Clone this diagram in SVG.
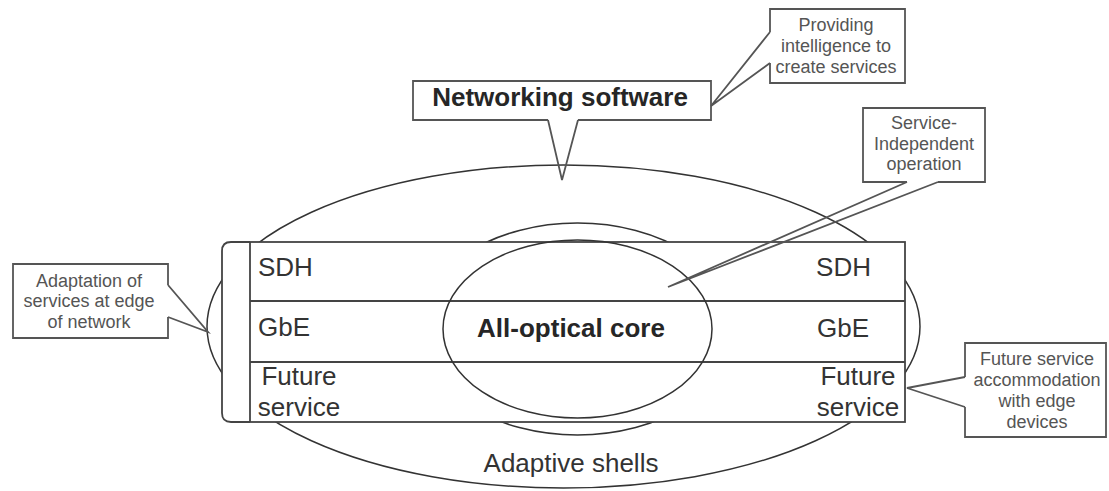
<svg xmlns="http://www.w3.org/2000/svg" width="1109" height="491" viewBox="0 0 1109 491">
<style>
.shell{fill:none;stroke:#333;stroke-width:1.5}
.box{fill:#fff;stroke:#444;stroke-width:1.8}
.row{stroke:#444;stroke-width:1.8}
.call{fill:none;stroke:#555;stroke-width:1.8;stroke-linejoin:miter}
.lbl{font-family:"Liberation Sans",Arial,sans-serif;font-size:26px;fill:#333}
.bold{font-family:"Liberation Sans",Arial,sans-serif;font-size:26px;font-weight:bold;fill:#262626}
.note{font-family:"Liberation Sans",Arial,sans-serif;font-size:18px;fill:#555;text-anchor:middle}
</style>
<rect width="1109" height="491" fill="#fff"/>
<g id="shells">
<ellipse class="shell" cx="563.5" cy="326.5" rx="356.5" ry="161.5"/>
<ellipse class="shell" cx="577.5" cy="329" rx="158" ry="106"/>
</g>
<g id="bracket">
<path class="box" d="M250,242 H231 Q222,242 222,251 V413 Q222,422 231,422 H250"/>
</g>
<g id="layers">
<rect class="box" x="250" y="242" width="655" height="180"/>
<line class="row" x1="250" y1="301" x2="905" y2="301"/>
<line class="row" x1="250" y1="362" x2="905" y2="362"/>
<text class="lbl" x="258" y="276">SDH</text>
<text class="lbl" x="871" y="276" text-anchor="end">SDH</text>
<text class="lbl" x="258" y="336">GbE</text>
<text class="lbl" x="869" y="337" text-anchor="end">GbE</text>
<text class="lbl" x="299" y="385" text-anchor="middle">Future</text>
<text class="lbl" x="299" y="416" text-anchor="middle">service</text>
<text class="lbl" x="858" y="385" text-anchor="middle">Future</text>
<text class="lbl" x="858" y="416" text-anchor="middle">service</text>
</g>
<g id="core">
<ellipse class="shell" cx="577.5" cy="329" rx="134.5" ry="89"/>
<text class="bold" x="571" y="337" text-anchor="middle">All-optical core</text>
</g>
<g id="adaptive-shells-label">
<text class="lbl" x="571" y="472" text-anchor="middle">Adaptive shells</text>
</g>
<g id="connectors">
<path class="call" d="M548,120 L562,180 L578,120"/>
<path class="call" d="M770,32 L711,106 L770,63"/>
<path class="call" d="M907,182 L668,287 L938,182"/>
<path class="call" d="M168,285 L208,332 L168,317"/>
<path class="call" d="M965,377 L907,388 L965,407"/>
</g>
<g id="networking-software">
<path class="call" d="M548,120 H413 V81 H711 V120 H578"/>
<text class="bold" x="560" y="106" text-anchor="middle">Networking software</text>
</g>
<g id="providing-intelligence">
<path class="call" d="M770,32 V9 H905 V83 H770 V63"/>
<text class="note" x="836" y="31">Providing</text>
<text class="note" x="836" y="52">intelligence to</text>
<text class="note" x="836" y="73">create services</text>
</g>
<g id="service-independent">
<path class="call" d="M907,182 H863 V108 H985 V182 H938"/>
<text class="note" x="924" y="129">Service-</text>
<text class="note" x="924" y="150">Independent</text>
<text class="note" x="924" y="170">operation</text>
</g>
<g id="adaptation">
<path class="call" d="M168,285 V264 H13 V338 H168 V317"/>
<text class="note" x="89" y="287">Adaptation of</text>
<text class="note" x="89" y="307">services at edge</text>
<text class="note" x="89" y="328">of network</text>
</g>
<g id="future-accommodation">
<path class="call" d="M965,377 V343 H1106 V437 H965 V407"/>
<text class="note" x="1037" y="365">Future service</text>
<text class="note" x="1037" y="386">accommodation</text>
<text class="note" x="1037" y="407">with edge</text>
<text class="note" x="1037" y="428">devices</text>
</g>
</svg>
